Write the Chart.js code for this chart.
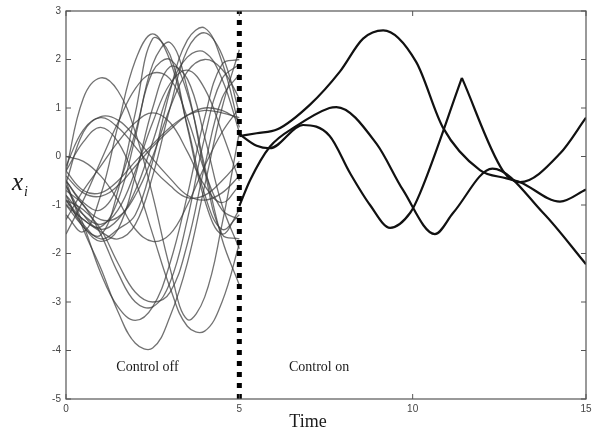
<!DOCTYPE html>
<html>
<head>
<meta charset="utf-8">
<script src="https://cdn.jsdelivr.net/npm/chart.js@4/dist/chart.umd.min.js"></script>
<style>
  html, body { margin: 0; padding: 0; background: #fff; }
  #wrap { width: 600px; height: 433px; }
</style>
</head>
<body>
<div id="wrap"><canvas id="chart"></canvas></div>
<script>
const switchTime = 5;
const xTicks = [0, 5, 10, 15];
const yTicks = [-5, -4, -3, -2, -1, 0, 1, 2, 3];

// before the switch: every trajectory sampled at these times
const offTime = [0, 0.5, 1, 1.5, 2, 2.5, 3, 3.5, 4, 4.5, 5];
const offCurves = [
  [-1.2, -1.55, -0.8, 0.64, 1.98, 2.53, 1.98, 0.64, -0.78, -1.5, -1.2],
  [-0.8, -1.45, -1.62, -0.7, 0.9, 2.43, 2.1, 0.6, -0.9, -1.6, -1.1],
  [-0.9, -1.3, -1.45, -0.9, 0.4, 1.9, 2.35, 1.4, -0.3, -1.6, -1.7],
  [-0.5, -0.95, -1.1, -0.6, 0.5, 1.75, 2.0, 1.3, -0.2, -1.7, -2.65],
  [-1.0, -1.45, -1.75, -1.5, -0.4, 1.0, 1.85, 1.6, 0.4, -1.0, -1.9],
  [-0.3, 1.2, 1.62, 1.35, 0.5, -0.8, -2.3, -3.36, -2.9, -1.4, 0.5],
  [-0.5, -1.5, -2.3, -3.2, -3.85, -3.95, -3.3, -2.2, -0.6, 1.0, 2.2],
  [-0.6, -1.4, -2.4, -3.1, -3.38, -3.1, -2.2, -0.8, 0.8, 1.9, 2.0],
  [-0.7, -1.0, -1.6, -2.4, -3.0, -3.1, -2.6, -1.3, 0.4, 1.6, 1.9],
  [-0.9, -1.1, -1.5, -2.2, -2.8, -3.0, -2.8, -1.8, -0.2, 1.2, 1.7],
  [-0.9, -1.4, -1.7, -1.5, -1.2, -0.1, 1.35, 2.4, 2.65, 1.95, 0.6],
  [-1.0, -1.3, -1.55, -1.7, -1.4, -0.4, 1.0, 2.2, 2.55, 2.1, 0.9],
  [-0.6, -1.2, -1.5, -1.3, -0.7, 0.3, 1.4, 2.05, 2.15, 1.6, 0.5],
  [-0.5, -1.0, -1.3, -1.25, -0.8, 0.0, 1.0, 1.75, 2.0, 1.8, 1.2],
  [-0.8, -1.2, -1.4, -1.1, -0.3, 0.7, 1.5, 1.78, 1.4, 0.5, -0.5],
  [-0.3, 0.3, 0.6, 0.3, -0.5, -1.6, -2.7, -3.5, -3.6, -3.0, -1.8],
  [-0.55, 0.5, 0.82, 0.75, 0.4, -0.05, -0.45, -0.8, -0.9, -0.75, -0.4],
  [-0.2, 0.55, 0.8, 0.6, 0.2, -0.25, -0.6, -0.85, -0.8, -0.5, -0.1],
  [-0.4, -0.75, -0.82, -0.6, -0.2, 0.2, 0.55, 0.85, 1.0, 0.95, 0.75],
  [-0.3, -0.7, -0.75, -0.5, -0.1, 0.25, 0.6, 0.85, 0.95, 0.9, 0.8],
  [-1.3, -0.7, -0.2, 0.3, 0.7, 0.9, 0.7, 0.1, -0.6, -0.95, -0.6],
  [0.0, -0.1, -0.4, -0.9, -1.5, -1.75, -1.6, -1.0, -0.2, 0.5, 1.0],
  [-1.6, -0.9, -0.1, 0.7, 1.4, 1.72, 1.6, 0.8, -0.3, -1.1, -1.3]
];

// once control is on, [time, x_i]
const onCurveA = [[5, 0.42], [5.5, 0.48], [6.1, 0.56], [7.04, 1.07], [7.9, 1.75], [8.57, 2.43], [9.15, 2.6],
  [10.1, 1.95], [10.87, 0.6], [11.94, -0.28], [12.71, -0.45], [13.1, -0.53], [14.25, -0.93], [15, -0.68]];
const onCurveB = [[5, -1.02], [5.31, -0.49], [5.88, 0.2], [6.65, 0.63], [7.6, 1.0], [7.8, 1.02], [8.96, 0.26],
  [9.72, -0.69], [10.64, -1.6], [11.17, -1.16], [12.3, -0.25], [13.76, -1.16], [15, -2.22]];
const onCurveC1 = [[5, 0.46], [5.5, 0.22], [5.88, 0.17], [6.84, 0.65], [7.6, 0.43], [8.2, -0.35], [8.77, -1.0],
  [9.35, -1.47], [9.93, -1.16], [10.21, -0.76], [11.42, 1.62]];
const onCurveC2 = [[11.42, 1.62], [12.6, -0.29], [13.1, -0.53], [14.25, 0.06], [15, 0.8]];

const toXY = (pts) => pts.map(p => ({ x: p[0], y: p[1] }));

const datasets = [];
datasets.push({
  data: [{ x: switchTime, y: yTicks[0] }, { x: switchTime, y: yTicks[yTicks.length - 1] }],
  borderColor: '#000',
  borderWidth: 5,
  borderDash: [5, 6],
  borderCapStyle: 'butt',
  tension: 0,
  order: 0
});
[onCurveA, onCurveB, onCurveC1, onCurveC2].forEach(c => {
  datasets.push({
    data: toXY(c),
    borderColor: '#111',
    borderWidth: 2.2,
    cubicInterpolationMode: 'monotone',
    order: 1
  });
});
offCurves.forEach(vals => {
  datasets.push({
    data: vals.map((v, i) => ({ x: offTime[i], y: v })),
    borderColor: 'rgba(60,60,60,0.72)',
    borderWidth: 1.3,
    tension: 0.4,
    order: 2
  });
});

const framePlugin = {
  id: 'frame',
  afterDatasetsDraw(chart) {
    const ctx = chart.ctx;
    const a = chart.chartArea;
    const xs = chart.scales.x;
    const ys = chart.scales.y;
    ctx.save();
    ctx.strokeStyle = '#555';
    ctx.lineWidth = 1.2;
    ctx.strokeRect(a.left, a.top, a.right - a.left, a.bottom - a.top);
    ctx.lineWidth = 1;
    ctx.beginPath();
    xTicks.forEach(t => {
      const px = xs.getPixelForValue(t);
      ctx.moveTo(px, a.bottom); ctx.lineTo(px, a.bottom - 5);
      ctx.moveTo(px, a.top); ctx.lineTo(px, a.top + 5);
    });
    yTicks.forEach(t => {
      const py = ys.getPixelForValue(t);
      ctx.moveTo(a.left, py); ctx.lineTo(a.left + 5, py);
      ctx.moveTo(a.right, py); ctx.lineTo(a.right - 5, py);
    });
    ctx.stroke();
    ctx.restore();
  },
  afterDraw(chart) {
    const ctx = chart.ctx;
    const xs = chart.scales.x;
    const ys = chart.scales.y;
    ctx.save();
    ctx.fillStyle = '#1a1a1a';
    ctx.textAlign = 'center';
    ctx.textBaseline = 'alphabetic';
    ctx.font = '14px "Liberation Serif", serif';
    ctx.fillText('Control off', xs.getPixelForValue(2.35), ys.getPixelForValue(-4.43));
    ctx.fillText('Control on', xs.getPixelForValue(7.3), ys.getPixelForValue(-4.43));
    ctx.font = '18px "Liberation Serif", serif';
    ctx.fillText('Time', 308, 427);
    ctx.textAlign = 'left';
    ctx.font = 'italic 25px "Liberation Serif", serif';
    ctx.fillText('x', 12, 190);
    ctx.font = 'italic 14px "Liberation Serif", serif';
    ctx.fillText('i', 24, 196);
    ctx.restore();
  }
};

new Chart(document.getElementById('chart'), {
  type: 'line',
  data: { datasets: datasets },
  options: {
    responsive: true,
    maintainAspectRatio: false,
    animation: false,
    layout: { padding: { top: 5, right: 14, left: 0, bottom: 0 } },
    elements: { point: { radius: 0 } },
    plugins: { legend: { display: false }, tooltip: { enabled: false } },
    scales: {
      x: {
        type: 'linear',
        min: 0,
        max: 15,
        afterFit: (s) => { s.height = 34; },
        afterBuildTicks: (s) => { s.ticks = xTicks.map(v => ({ value: v })); },
        grid: { display: false, drawTicks: false },
        border: { display: false },
        ticks: { padding: 4, color: '#444', font: { family: '"Liberation Sans", sans-serif', size: 10 } }
      },
      y: {
        type: 'linear',
        min: -5,
        max: 3,
        afterFit: (s) => { s.width = 66; },
        afterBuildTicks: (s) => { s.ticks = yTicks.map(v => ({ value: v })); },
        grid: { display: false, drawTicks: false },
        border: { display: false },
        ticks: { padding: 5, color: '#444', font: { family: '"Liberation Sans", sans-serif', size: 10 } }
      }
    }
  },
  plugins: [framePlugin]
});
</script>
</body>
</html>
